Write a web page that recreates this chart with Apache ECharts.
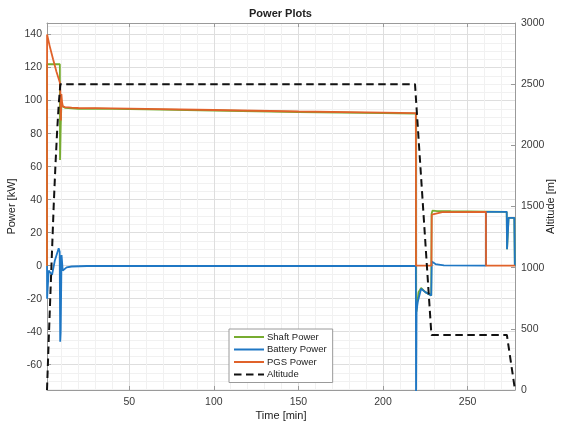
<!DOCTYPE html>
<html>
<head>
<meta charset="utf-8">
<title>Power Plots</title>
<script src="https://cdn.jsdelivr.net/npm/echarts@6/dist/echarts.min.js"></script>
<style>
  html, body { margin: 0; padding: 0; background: #ffffff; }
  #chart { width: 561px; height: 423px; }
</style>
</head>
<body>
<div id="chart"></div>
<script>
// Shaft power [kW] over time [min]
const shaftTime = [1.4, 1.45, 9.0, 9.1, 9.5, 9.9, 10.4, 11, 12, 16, 20, 30, 60, 100, 150, 200, 219.4,
  219.5, 219.7, 220.3, 221, 222.5, 225, 228.5, 228.7, 229.2, 232, 240, 250, 260.8,
  260.9, 273.1, 273.3, 274.2, 277.6, 277.9];
const shaftPower = [0, 122, 122, 64, 84, 97, 96.2, 95.8, 95.6, 95.3, 95.0, 95.1, 94.7, 94.0, 93.1, 92.4, 92.1,
  -20, -28, -22, -16, -13.5, -16, -18, 31.5, 33.3, 33.1, 33.0, 32.9, 32.8,
  32.6, 32.6, 10, 29, 29, 0];

// Battery power [kW]
const batteryTime = [1.4, 1.45, 2.4, 3.3, 4.4, 6, 8.3, 8.9, 9.2, 9.5, 10.0, 10.4, 10.7, 11.5, 13, 16, 25, 219.4,
  219.5, 219.8, 220.5, 222.5, 225, 228.5, 228.8, 231, 236, 260.8,
  260.9, 273.1, 273.3, 274.2, 277.6, 277.9];
const batteryPower = [0, -20, -3, -2, -5.5, 3, 10.5, 8.5, -46, -40, 6.5, 5.5, -3, -2, -1, -0.5, -0.2, -0.2,
  -80, -28, -22, -14, -16, -18, 2.5, 1, 0.2, 0,
  32.6, 32.6, 10, 29, 29, 0];

// PGS power [kW]
const pgsTime = [1.4, 1.45, 3, 5, 7, 9, 9.3, 9.6, 9.9, 10.3, 10.8, 12, 16, 20, 30, 60, 100, 150, 200, 219.4,
  219.5, 228.6, 228.8, 229.5, 235, 260.8, 260.9, 278];
const pgsPower = [0, 140, 133, 125, 117.5, 111, 105, 88, 104, 99, 96.5, 96.0, 95.7, 95.5, 95.4, 95.0, 94.3, 93.4, 92.7, 92.4,
  0, 0, 31, 32.2, 32.5, 32.6, 0, 0];

// Flight altitude [m]
const altTime = [1.4, 2.4, 3.4, 4.4, 5.4, 6.4, 7.4, 8.4, 9.3, 218.9, 228.6, 273.2, 278];
const altitude = [0, 400, 780, 1150, 1520, 1840, 2120, 2350, 2500, 2500, 450, 450, 0];

// Axis settings
const timeRange = [1.4, 278];
const powerRange = [-75.3, 147];
const altRange = [0, 3000];

const seriesNames = ['Shaft Power', 'Battery Power', 'PGS Power', 'Altitude'];
const seriesColors = ['#77AC30', '#1f77c4', '#e0622a', '#111111'];

function pairs(t, v) { return t.map((x, i) => [x, v[i]]); }

const fontFamily = 'Liberation Sans, Arial, sans-serif';
const labelFont = { fontFamily: fontFamily, fontSize: 10.5, color: '#3a3a3a' };
const axisLineStyle = { color: '#9a9a9a', width: 1 };

const chart = echarts.init(document.getElementById('chart'), null, { renderer: 'canvas' });

chart.setOption({
  animation: false,
  backgroundColor: '#ffffff',
  title: {
    text: 'Power Plots',
    left: 'center',
    top: 3,
    textStyle: { fontFamily: fontFamily, fontSize: 11, fontWeight: 'bold', color: '#222' }
  },
  grid: { left: 47, right: 46, top: 23, bottom: 33, containLabel: false, outerBoundsMode: 'none' },
  legend: {
    data: seriesNames,
    orient: 'vertical',
    left: 229,
    top: 329,
    itemWidth: 30,
    itemHeight: 8,
    itemGap: 2.5,
    padding: [3, 6, 3, 4],
    backgroundColor: '#ffffff',
    borderColor: '#9a9a9a',
    borderWidth: 1,
    borderRadius: 0,
    itemStyle: { opacity: 0 },
    textStyle: { fontFamily: fontFamily, fontSize: 9.5, color: '#222', padding: [0, 0, 0, -2] }
  },
  xAxis: [{
    type: 'value',
    min: timeRange[0],
    max: timeRange[1],
    splitNumber: 5,
    name: 'Time [min]',
    nameLocation: 'middle',
    nameGap: 20,
    nameMoveOverlap: false,
    nameTextStyle: { fontFamily: fontFamily, fontSize: 11, color: '#222' },
    axisLine: { show: true, onZero: false, lineStyle: axisLineStyle },
    axisTick: { show: true, inside: true, length: 4, lineStyle: axisLineStyle },
    axisLabel: { ...labelFont, margin: 7, showMinLabel: false, showMaxLabel: false },
    splitLine: { show: true, lineStyle: { color: '#dedede', width: 1 } },
    minorTick: { show: false, splitNumber: 5 },
    minorSplitLine: { show: true, lineStyle: { color: '#f1f1f1', width: 1 } }
  }, {
    type: 'value',
    position: 'top',
    min: timeRange[0],
    max: timeRange[1],
    splitNumber: 5,
    axisLine: { show: true, onZero: false, lineStyle: axisLineStyle },
    axisTick: { show: true, inside: true, length: 4, lineStyle: axisLineStyle },
    axisLabel: { show: false },
    splitLine: { show: false }
  }],
  yAxis: [{
    type: 'value',
    min: powerRange[0],
    max: powerRange[1],
    splitNumber: 11,
    position: 'left',
    name: 'Power [kW]',
    nameLocation: 'middle',
    nameRotate: 90,
    nameGap: 30,
    nameMoveOverlap: false,
    nameTextStyle: { fontFamily: fontFamily, fontSize: 11, color: '#222' },
    axisLine: { show: true, onZero: false, lineStyle: axisLineStyle },
    axisTick: { show: true, inside: true, length: 4, lineStyle: axisLineStyle },
    axisLabel: { ...labelFont, margin: 5, showMinLabel: false, showMaxLabel: false },
    splitLine: { show: true, lineStyle: { color: '#dedede', width: 1 } },
    minorTick: { show: false, splitNumber: 4 },
    minorSplitLine: { show: true, lineStyle: { color: '#f1f1f1', width: 1 } }
  }, {
    type: 'value',
    min: altRange[0],
    max: altRange[1],
    interval: 500,
    position: 'right',
    name: 'Altitude [m]',
    nameLocation: 'middle',
    nameRotate: 90,
    nameGap: 30,
    nameMoveOverlap: false,
    nameTextStyle: { fontFamily: fontFamily, fontSize: 11, color: '#222' },
    axisLine: { show: true, onZero: false, lineStyle: axisLineStyle },
    axisTick: { show: true, inside: true, length: 4, lineStyle: axisLineStyle },
    axisLabel: { ...labelFont, margin: 6, formatter: (v) => String(v) },
    splitLine: { show: false }
  }],
  series: [{
    name: seriesNames[0],
    type: 'line',
    yAxisIndex: 0,
    data: pairs(shaftTime, shaftPower),
    symbol: 'none',
    color: seriesColors[0],
    lineStyle: { width: 1.8, color: seriesColors[0] },
    z: 2
  }, {
    name: seriesNames[1],
    type: 'line',
    yAxisIndex: 0,
    data: pairs(batteryTime, batteryPower),
    symbol: 'none',
    color: seriesColors[1],
    lineStyle: { width: 1.8, color: seriesColors[1] },
    z: 3
  }, {
    name: seriesNames[2],
    type: 'line',
    yAxisIndex: 0,
    data: pairs(pgsTime, pgsPower),
    symbol: 'none',
    color: seriesColors[2],
    lineStyle: { width: 1.8, color: seriesColors[2] },
    z: 4
  }, {
    name: seriesNames[3],
    type: 'line',
    yAxisIndex: 1,
    data: pairs(altTime, altitude),
    symbol: 'none',
    color: seriesColors[3],
    lineStyle: { width: 2, color: seriesColors[3], type: [7.5, 4.5] },
    z: 5
  }]
});
</script>
</body>
</html>
